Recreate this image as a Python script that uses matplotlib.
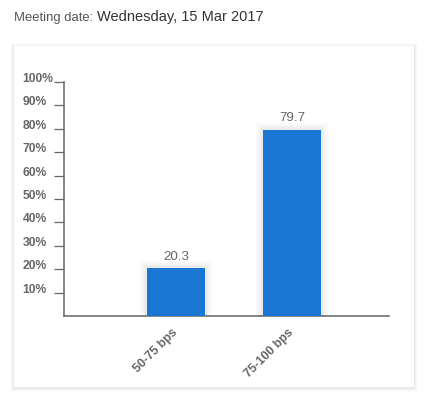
import matplotlib
matplotlib.use("Agg")
import matplotlib.pyplot as plt
import matplotlib.patheffects as pe
from matplotlib.patches import Rectangle
from matplotlib.ticker import FixedLocator

plt.rcParams['font.family'] = ['Liberation Sans', 'DejaVu Sans']

# data
categories = ['50-75 bps', '75-100 bps']
probabilities = [20.3, 79.7]
y_ticks = [10, 20, 30, 40, 50, 60, 70, 80, 90, 100]
y_tick_labels = [f'{v}%' for v in y_ticks]
meeting_label = 'Meeting date:'
meeting_date = 'Wednesday, 15 Mar 2017'

W, H = 431, 401
fig = plt.figure(figsize=(W / 100, H / 100), dpi=100)
fig.patch.set_facecolor('white')


def px(x, y):
    # pixel coords (from top-left) to figure fraction
    return x / W, 1 - y / H


# header text
fig.text(*px(14, 21), meeting_label, fontsize=9.4, color='#555555', va='baseline')
fig.text(*px(97, 21), meeting_date, fontsize=10.5, color='#333333', va='baseline')

# card with soft shadow
cx0, cy0, cx1, cy1 = 14, 46, 414, 387
for i, a in enumerate([0.035, 0.025, 0.018, 0.012]):
    g = i + 1
    fig.patches.append(Rectangle(((cx0 - g) / W, 1 - (cy1 + g + 1) / H),
                                 (cx1 - cx0 + 2 * g) / W, (cy1 - cy0 + 2 * g) / H,
                                 transform=fig.transFigure, facecolor='black',
                                 edgecolor='none', alpha=a, zorder=-3))
fig.patches.append(Rectangle((cx0 / W, 1 - cy1 / H), (cx1 - cx0) / W, (cy1 - cy0) / H,
                             transform=fig.transFigure, facecolor='white',
                             edgecolor='none', zorder=-2))

# plot area
ax_l, ax_t, ax_r, ax_b = 64, 82, 389, 316
ax = fig.add_axes([ax_l / W, 1 - ax_b / H, (ax_r - ax_l) / W, (ax_b - ax_t) / H])
ax.patch.set_alpha(0)

x = list(range(len(categories)))
bars = ax.bar(x, probabilities, width=0.5, color='#1976D2', zorder=3)
for b in bars:
    b.set_path_effects([pe.Stroke(linewidth=10, foreground='black', alpha=0.02),
                        pe.Stroke(linewidth=7, foreground='black', alpha=0.025),
                        pe.Stroke(linewidth=4, foreground='black', alpha=0.035),
                        pe.Normal()])
    b.set_linewidth(0)

for xi, v in zip(x, probabilities):
    ax.annotate(f'{v}', (xi, v), xytext=(0, 4), textcoords='offset points',
                ha='center', va='bottom', fontsize=9.6, color='#666666')

ax.set_xlim(-0.966, 1.836)
ax.set_ylim(0, 100)

for s in ['top', 'right']:
    ax.spines[s].set_visible(False)
for s in ['left', 'bottom']:
    ax.spines[s].set_color('#666666')
    ax.spines[s].set_linewidth(1.1)

# y labels are left-aligned at x ~ 22.5 px, tick is 10 px long
ax.yaxis.set_major_locator(FixedLocator(y_ticks))
ax.set_yticklabels(y_tick_labels, fontsize=8.7, fontweight='bold', color='#666666',
                   va='baseline', ha='left')
ax.tick_params(axis='y', length=7.2, width=0.9, color='#666666',
               pad=(ax_l - 10 - 22.5) * 0.72)

ax.set_xticks(x)
ax.set_xticklabels(categories, rotation=45, ha='right', va='center',
                   rotation_mode='anchor', fontsize=8.8, fontweight='bold',
                   color='#666666')
ax.tick_params(axis='x', length=0, pad=10.5)

fig.savefig('out.png', dpi=100, facecolor='white')
